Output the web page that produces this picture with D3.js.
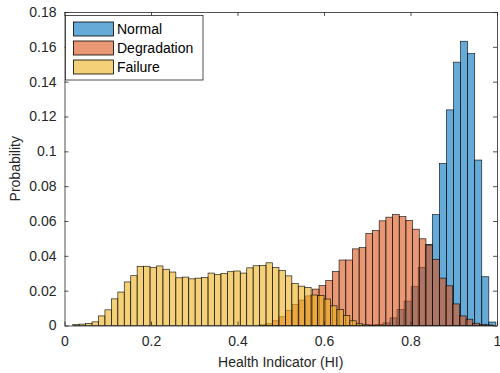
<!DOCTYPE html>
<html>
<head>
<meta charset="utf-8">
<script src="https://cdn.jsdelivr.net/npm/d3@7"></script>
<style>
  html, body { margin: 0; padding: 0; background: #fff; }
  svg { display: block; font-family: "Liberation Sans", Arial, Helvetica, sans-serif; }
</style>
</head>
<body>
<svg id="chart" width="500" height="373"></svg>
<script>
// ---- data ----
const seriesNames = ["Normal", "Degradation", "Failure"];
const seriesColors = ["#0072BD", "#D95319", "#EDB120"];

// histogram bin starts / widths (x units) and probabilities
const normalStart = 0.7036, normalWidth = 0.01632;
const normalValues = [0.0002, 0.0005, 0.0015, 0.0044, 0.0092, 0.0140, 0.0223, 0.0333, 0.0466,
  0.0637, 0.0930, 0.1238, 0.1512, 0.1632, 0.1561, 0.0950, 0.0280, 0.0020];

const degradationStart = 0.4495, degradationWidth = 0.01545;
const degradationValues = [0.0004, 0.0010, 0.0027, 0.0050, 0.0087, 0.0120, 0.0146, 0.0170,
  0.0209, 0.0229, 0.0258, 0.0311, 0.0376, 0.0376, 0.0440, 0.0447, 0.0528, 0.0545, 0.0601,
  0.0622, 0.0637, 0.0625, 0.0603, 0.0553, 0.0498, 0.0462, 0.0380, 0.0272, 0.0228, 0.0124,
  0.0055, 0.0036, 0.0013, 0.0007, 0.0003];

const failureStart = 0.019, failureWidth = 0.0149;
const failureValues = [0.0005, 0.0008, 0.0012, 0.0021, 0.0055, 0.0090, 0.0153, 0.0192, 0.0250,
  0.0286, 0.0340, 0.0340, 0.0332, 0.0342, 0.0323, 0.0307, 0.0274, 0.0278, 0.0268, 0.0272,
  0.0276, 0.0301, 0.0292, 0.0298, 0.0309, 0.0313, 0.0301, 0.0331, 0.0343, 0.0345, 0.0360,
  0.0333, 0.0315, 0.0285, 0.0241, 0.0226, 0.0219, 0.0175, 0.0173, 0.0152, 0.0113, 0.0092,
  0.0058, 0.0027, 0.0010, 0.0004, 0.0002];

const xTicks = [0, 0.2, 0.4, 0.6, 0.8, 1];
const yTicks = [0, 0.02, 0.04, 0.06, 0.08, 0.1, 0.12, 0.14, 0.16, 0.18];
const xLabel = "Health Indicator (HI)";
const yLabel = "Probability";

// ---- layout ----
const svg = d3.select("#chart");
const mLeft = 64.5, mRight = 497, mTop = 12, mBottom = 325.5;
const x = d3.scaleLinear().domain([0, 1]).range([mLeft, mRight]);
const y = d3.scaleLinear().domain([0, 0.18]).range([mBottom, mTop]);
const axisColor = "#262626";

const series = [
  {name: seriesNames[0], color: seriesColors[0], start: normalStart, width: normalWidth, values: normalValues},
  {name: seriesNames[1], color: seriesColors[1], start: degradationStart, width: degradationWidth, values: degradationValues},
  {name: seriesNames[2], color: seriesColors[2], start: failureStart, width: failureWidth, values: failureValues}
];

// bars
series.forEach(s => {
  const bins = s.values.map((v, i) => ({x0: s.start + i * s.width, x1: s.start + (i + 1) * s.width, v}));
  svg.append("g")
    .selectAll("rect")
    .data(bins)
    .join("rect")
    .attr("x", d => x(d.x0))
    .attr("width", d => x(d.x1) - x(d.x0))
    .attr("y", d => y(d.v))
    .attr("height", d => y(0) - y(d.v))
    .attr("fill", s.color)
    .attr("fill-opacity", 0.6)
    .attr("stroke", "#000")
    .attr("stroke-width", 0.7)
    .attr("stroke-opacity", 0.85);
});

// axes
function styleAxis(g) {
  g.selectAll("path.domain").attr("stroke", axisColor).attr("stroke-width", 0.8);
  g.selectAll(".tick line").attr("stroke", axisColor).attr("stroke-width", 0.8);
  g.selectAll("text").attr("fill", axisColor).style("font-size", "14px")
    .style("font-family", "'Liberation Sans', Arial, Helvetica, sans-serif");
}
const fmtX = d => d === 0 ? "0" : (d === 1 ? "1" : d3.format(".1f")(d));
const fmtY = d => d === 0 ? "0" : String(+d.toFixed(2));

svg.append("g").attr("transform", `translate(0,${mBottom})`)
  .call(d3.axisBottom(x).tickValues(xTicks).tickFormat(fmtX).tickSize(-4).tickSizeOuter(0).tickPadding(11))
  .call(styleAxis);
svg.append("g").attr("transform", `translate(0,${mTop})`)
  .call(d3.axisTop(x).tickValues(xTicks).tickFormat("").tickSize(-4).tickSizeOuter(0))
  .call(styleAxis);
svg.append("g").attr("transform", `translate(${mLeft},0)`)
  .call(d3.axisLeft(y).tickValues(yTicks).tickFormat(fmtY).tickSize(-4).tickSizeOuter(0).tickPadding(8))
  .call(styleAxis);
svg.append("g").attr("transform", `translate(${mRight},0)`)
  .call(d3.axisRight(y).tickValues(yTicks).tickFormat("").tickSize(-4).tickSizeOuter(0))
  .call(styleAxis);

// axis labels
svg.append("text")
  .attr("x", (mLeft + mRight) / 2).attr("y", 367)
  .attr("text-anchor", "middle").attr("fill", axisColor)
  .style("font-size", "14px").text(xLabel);
svg.append("text")
  .attr("transform", `translate(20,${(mTop + mBottom) / 2}) rotate(-90)`)
  .attr("text-anchor", "middle").attr("fill", axisColor)
  .style("font-size", "14px").text(yLabel);

// legend
const lg = svg.append("g");
lg.append("rect").attr("x", 65.5).attr("y", 15.5).attr("width", 137.5).attr("height", 64.5)
  .attr("fill", "#fff").attr("stroke", axisColor).attr("stroke-width", 0.8);
series.forEach((s, i) => {
  const cy = 29 + i * 19;
  lg.append("rect").attr("x", 73.5).attr("y", cy - 7).attr("width", 40).attr("height", 14)
    .attr("fill", s.color).attr("fill-opacity", 0.6)
    .attr("stroke", "#000").attr("stroke-width", 0.8);
  lg.append("text").attr("x", 117).attr("y", cy + 5)
    .attr("fill", "#000").style("font-size", "14px").text(s.name);
});
</script>
</body>
</html>
